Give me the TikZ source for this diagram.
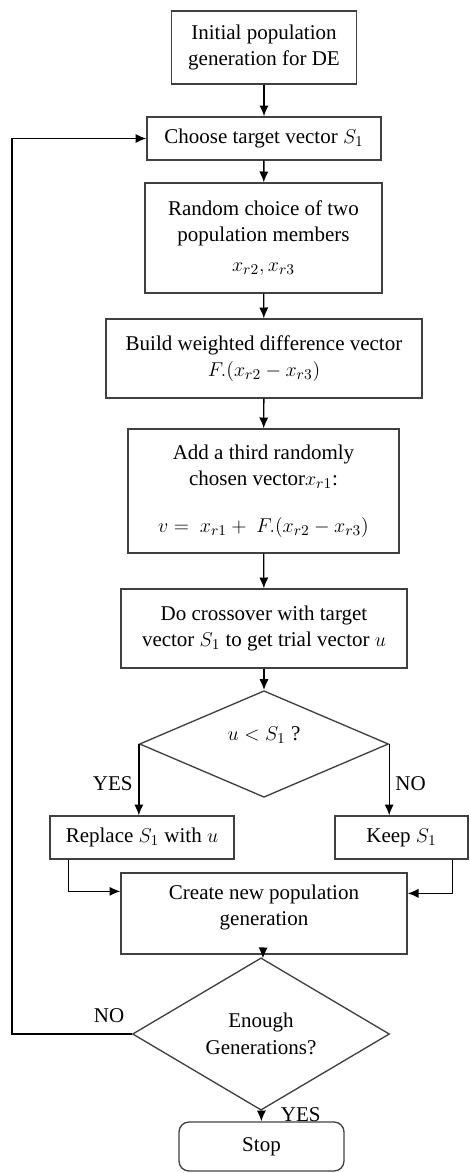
\documentclass[tikz,border=0pt]{standalone}
\usepackage{fontspec}
\setmainfont{Liberation Serif}
\usetikzlibrary{arrows,arrows.meta,shapes,positioning}
\tikzset{
  all/.style  = {align=center},
  basic/.style  = {all, draw=black!75, line width=0.8pt, font=\fontsize{12.6}{16}\selectfont, inner sep=2pt},
  process/.style   = {basic, rectangle},
  decision/.style = {basic, diamond, inner sep=0pt},
  terminal/.style = {basic, rectangle, rounded corners=6pt},
  answer/.style = {all, font=\fontsize{12.6}{14}\selectfont},
  flow/.style = {-{Latex[length=6.5pt,width=5.5pt]}, line width=0.8pt}
}
\begin{document}
\begin{tikzpicture}[x=0.6pt, y=-0.6pt]
\useasboundingbox (0,0) rectangle (470,1173);
% main column of the flowchart
\node[process, minimum width=111pt, minimum height=43.8pt] (init) at (264,47.5) {Initial population\\generation for DE};
\node[process, minimum width=140.4pt, minimum height=25.8pt] (choose) at (264,138.5) {Choose target vector $S_1$};
\node[process, minimum width=142.2pt, minimum height=66pt] (pick) at (263.5,238) {Random choice of two\\population members\\[2pt]$x_{r2}, x_{r3}$};
\node[process, minimum width=189.6pt, minimum height=47.4pt] (diff) at (264,358.5) {Build weighted difference vector\\$F.(x_{r2} - x_{r3})$};
\node[process, minimum width=162.6pt, minimum height=74.4pt] (mutant) at (263.5,491) {Add a third randomly\\chosen vector$x_{r1}$:\\[12pt]$v =\ x_{r1} +\ F.(x_{r2} - x_{r3})$};
\node[process, minimum width=171.6pt, minimum height=47.4pt] (cross) at (264,628.5) {Do crossover with target\\vector $S_1$ to get trial vector $u$};
% selection step
\node[decision, minimum width=149.4pt, minimum height=61.2pt] (check) at (264,744) {$u < S_1$ ?\\[-4pt]};
\node[process, minimum width=110.4pt, minimum height=25.8pt] (replace) at (142,837.5) {Replace $S_1$ with $u$};
\node[process, minimum width=79.8pt, minimum height=25.8pt] (keep) at (401.5,837.5) {Keep $S_1$};
\node[process, minimum width=171.6pt, minimum height=48.6pt] (create) at (264,913.5) {Create new population\\generation\\[-6pt]};
\node[decision, minimum width=154.2pt, minimum height=76.2pt] (enough) at (261,1034) {Enough\\Generations?};
\node[terminal, minimum width=99pt, minimum height=29.4pt] (stop) at (261.5,1146.5) {Stop};
\coordinate (loop) at (12,1034);

% connectors
\draw[flow] (init) -- (choose);
\draw[flow] (choose) -- (pick);
\draw[flow] (pick) -- (diff);
\draw[flow] (diff) -- (mutant);
\draw[flow] (mutant) -- (cross);
\draw[flow] (cross) -- (check);
\draw[flow] (check.west) -- node[answer, left, pos=0.55] {YES} (check.west |- replace.north);
\draw[flow] (check.east) -- node[answer, right, pos=0.55] {NO} (check.east |- keep.north);
\draw[flow] ([xshift=11.4pt]replace.south west) |- ([yshift=-11.4pt]create.north west);
\draw[flow] ([xshift=-9.6pt]keep.south east) |- ([yshift=-12.6pt]create.north east);
\draw[flow] (create) -- (enough);
\draw[flow] (enough) -- node[answer, right=8pt, pos=0.35] {YES} (stop);
\draw[flow] (enough.west) -- node[answer, above, pos=0.19, yshift=3pt] {NO} (loop) |- (choose.west);
\end{tikzpicture}
\end{document}
